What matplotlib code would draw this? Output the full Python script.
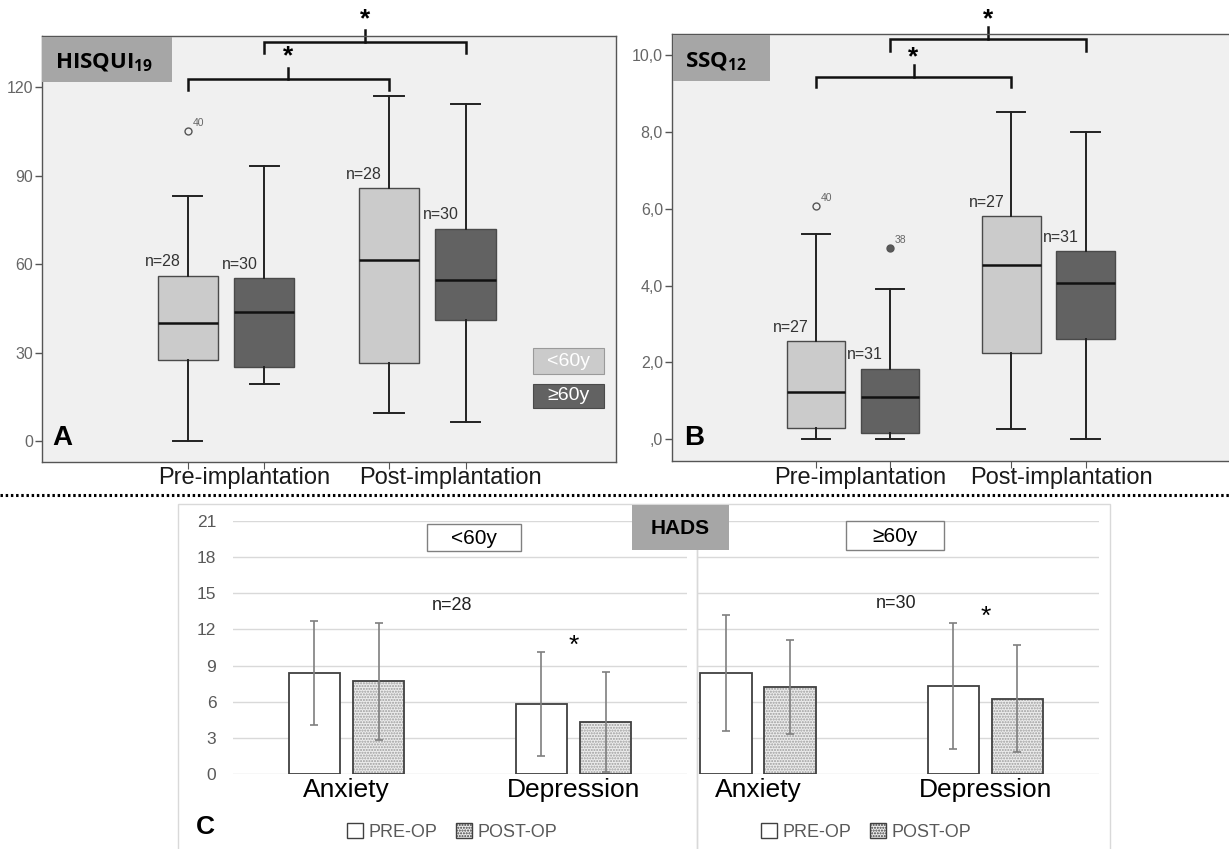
import numpy as np
import matplotlib
import matplotlib.pyplot as plt
from matplotlib.patches import Rectangle, Patch
from matplotlib.lines import Line2D

W, H = 1229, 849
DPI = 100

plt.rcParams['font.family'] = ['Liberation Sans', 'DejaVu Sans']
plt.rcParams['mathtext.fontset'] = 'custom'
plt.rcParams['mathtext.bf'] = 'Open Sans:bold'
plt.rcParams['mathtext.rm'] = 'Open Sans'

# ---- data ----
groups = ["Pre-implantation", "Post-implantation"]
age_labels = ["<60y", "≥60y"]

# panel A: HISQUI19, boxes in order <60 pre, >=60 pre, <60 post, >=60 post
hisqui_low = [0.0, 19.3, 9.4, 6.6]
hisqui_q1 = [27.6, 25.2, 26.4, 41.1]
hisqui_med = [40.0, 43.8, 61.3, 54.6]
hisqui_q3 = [56.0, 55.2, 85.7, 72.0]
hisqui_high = [82.9, 93.1, 117.0, 114.2]
hisqui_n = [28, 30, 28, 30]
hisqui_outliers = [[105.2], [], [], []]
hisqui_outlier_ids = [["40"], [], [], []]

# panel B: SSQ12
ssq_low = [0.0, 0.0, 0.26, 0.0]
ssq_q1 = [0.30, 0.17, 2.23, 2.62]
ssq_med = [1.22, 1.09, 4.54, 4.07]
ssq_q3 = [2.55, 1.83, 5.80, 4.90]
ssq_high = [5.33, 3.91, 8.53, 7.99]
ssq_n = [27, 31, 27, 31]
ssq_outliers = [[6.08], [4.99], [], []]
ssq_outlier_ids = [["40"], ["38"], [], []]

# panel C: HADS means and SD
hads_scales = ["Anxiety", "Depression"]
hads_young_pre = [8.4, 5.8]
hads_young_pre_sd = [4.3, 4.3]
hads_young_post = [7.7, 4.35]
hads_young_post_sd = [4.85, 4.15]
hads_old_pre = [8.4, 7.3]
hads_old_pre_sd = [4.8, 5.25]
hads_old_post = [7.2, 6.25]
hads_old_post_sd = [3.9, 4.45]
hads_n = [28, 30]

LIGHT = '#cbcbcb'
DARK = '#626262'
PANEL_BG = '#f0f0f0'
BOX_OFF = 0.19


def fig_rect(x0, y0, x1, y1):
    return [x0 / W, 1 - y1 / H, (x1 - x0) / W, (y1 - y0) / H]


def ftext(x, y, s, **kw):
    return fig.text(x / W, 1 - y / H, s, **kw)


def frect(x0, y0, x1, y1, **kw):
    r = Rectangle((x0 / W, 1 - y1 / H), (x1 - x0) / W, (y1 - y0) / H,
                  transform=fig.transFigure, **kw)
    fig.add_artist(r)
    return r


def box_panel(ax, lows, q1s, meds, q3s, highs, outs, out_ids, ns, out_fill):
    pos = [g + o for g in (1, 2) for o in (-BOX_OFF, BOX_OFF)]
    stats = [dict(whislo=lows[i], q1=q1s[i], med=meds[i], q3=q3s[i],
                  whishi=highs[i], fliers=[]) for i in range(4)]
    bp = ax.bxp(stats, positions=pos, widths=0.30, capwidths=0.145,
                patch_artist=True, showfliers=False,
                boxprops=dict(edgecolor='#4a4a4a', linewidth=1.0),
                medianprops=dict(color='#111111', linewidth=1.8),
                whiskerprops=dict(color='#222222', linewidth=1.4),
                capprops=dict(color='#222222', linewidth=1.4))
    for patch, c in zip(bp['boxes'], [LIGHT, DARK, LIGHT, DARK]):
        patch.set_facecolor(c)
    for i in range(4):
        for v, lab in zip(outs[i], out_ids[i]):
            ax.plot(pos[i], v, 'o', ms=5, mfc=out_fill[i], mec='#555555', mew=1)
            ax.annotate(lab, (pos[i], v), xytext=(3.5, 5.5), textcoords='offset points',
                        fontsize=7.5, color='#666666', va='center', ha='left')
        ax.annotate(f"n={ns[i]}", (pos[i], q3s[i]), xytext=(-5, 10),
                    textcoords='offset points', ha='right', va='center',
                    fontsize=11.5, color='#333333')
    ax.set_facecolor(PANEL_BG)
    for s in ax.spines.values():
        s.set_color('#555555')
        s.set_linewidth(1.0)
    ax.set_xticks(pos)
    ax.tick_params(axis='x', length=5, color='#555555', labelbottom=False)
    ax.tick_params(axis='y', direction='out', length=5, width=1, color='#555555',
                   labelcolor='#666666', labelsize=11.5, pad=1.5)
    for t in ax.get_yticklabels():
        t.set_fontfamily(['Liberation Sans Narrow', 'Liberation Sans'])
    return pos


def bracket(ax, x0, x1, y, leg, tick, star_y):
    xm = (x0 + x1) / 2
    ax.plot([x0, x0, x1, x1], [y - leg, y, y, y - leg], color='#111111', lw=1.8,
            clip_on=False, solid_joinstyle='miter')
    ax.plot([xm, xm], [y, y + tick], color='#111111', lw=1.8, clip_on=False)
    ax.text(xm, star_y, '*', ha='center', va='center', fontsize=19, fontweight='bold',
            clip_on=False)


fig = plt.figure(figsize=(W / DPI, H / DPI), dpi=DPI)
fig.patch.set_facecolor('white')

# ---------- panel A ----------
axA = fig.add_axes(fig_rect(42, 36, 616, 462))
axA.set_ylim(-7.1, 137.3)
axA.set_yticks([0, 30, 60, 90, 120])
posA = box_panel(axA, hisqui_low, hisqui_q1, hisqui_med, hisqui_q3, hisqui_high,
                 hisqui_outliers, hisqui_outlier_ids, hisqui_n,
                 [PANEL_BG, PANEL_BG, PANEL_BG, PANEL_BG])
axA.set_xlim(0.085, 2.938)
bracket(axA, posA[0], posA[2], 122.7, 3.7, 3.7, 130.3)
bracket(axA, posA[1], posA[3], 135.3, 3.8, 4.0, 142.8)

frect(42, 37, 172, 82, facecolor='#a6a6a6', edgecolor='none', zorder=3)
ftext(55, 68, r'$\mathbf{HISQUI_{19}}$', fontsize=16, ha='left', va='baseline', zorder=4)
ftext(62, 438, 'A', fontsize=20, fontweight='bold', ha='center', va='center')

frect(533, 348, 604, 374, facecolor=LIGHT, edgecolor='#9a9a9a', lw=0.8, zorder=3)
frect(533, 384, 604, 408, facecolor=DARK, edgecolor='#4a4a4a', lw=0.8, zorder=3)
for lab, yc in zip(age_labels, [361, 396]):
    ftext(568, yc, lab, fontsize=14, color='white', ha='center', va='center', zorder=4,
          family=['Liberation Sans Narrow', 'Liberation Sans'])

ftext(244, 478, groups[0], fontsize=17, ha='center', va='center', color='#1a1a1a')
ftext(450, 478, groups[1], fontsize=17, ha='center', va='center', color='#1a1a1a')

# ---------- panel B ----------
axB = fig.add_axes(fig_rect(672, 34, 1232, 461))
axB.set_ylim(-0.57, 10.55)
axB.set_yticks([0, 2, 4, 6, 8, 10])
axB.set_yticklabels([',0', '2,0', '4,0', '6,0', '8,0', '10,0'])
posB = box_panel(axB, ssq_low, ssq_q1, ssq_med, ssq_q3, ssq_high,
                 ssq_outliers, ssq_outlier_ids, ssq_n,
                 [PANEL_BG, '#5a5a5a', PANEL_BG, PANEL_BG])
axB.set_xlim(0.074, 2.939)
bracket(axB, posB[0], posB[2], 9.43, 0.26, 0.3, 9.95)
bracket(axB, posB[1], posB[3], 10.42, 0.31, 0.3, 10.92)

frect(673, 35, 770, 81, facecolor='#a6a6a6', edgecolor='none', zorder=3)
ftext(685, 67, r'$\mathbf{SSQ_{12}}$', fontsize=16, ha='left', va='baseline', zorder=4)
ftext(694, 438, 'B', fontsize=20, fontweight='bold', ha='center', va='center')

ftext(860, 478, groups[0], fontsize=17, ha='center', va='center', color='#1a1a1a')
ftext(1061, 478, groups[1], fontsize=17, ha='center', va='center', color='#1a1a1a')

# dotted separator
fig.add_artist(Line2D([0, 1], [1 - 495 / H] * 2, transform=fig.transFigure,
                      color='black', lw=2.2, linestyle=(0, (0.8, 0.9))))

# ---------- panel C ----------
frect(178, 504, 697, 860, facecolor='none', edgecolor='#d9d9d9', lw=1.0, zorder=0)
frect(697, 504, 1110, 860, facecolor='none', edgecolor='#d9d9d9', lw=1.0, zorder=0)

axL = fig.add_axes(fig_rect(233, 521, 687, 774))
axR = fig.add_axes(fig_rect(698, 521, 1099, 774))

BAR_W = 0.225
BAR_OFF = 0.141
x = np.arange(len(hads_scales))

for ax, pre, pre_sd, post, post_sd, xl in [
        (axL, hads_young_pre, hads_young_pre_sd, hads_young_post, hads_young_post_sd, (-0.5, 1.5)),
        (axR, hads_old_pre, hads_old_pre_sd, hads_old_post, hads_old_post_sd, (-0.264, 1.5))]:
    ax.set_facecolor('none')
    ax.bar(x - BAR_OFF, pre, BAR_W, color='white', edgecolor='#404040', lw=1.3, zorder=2)
    ax.bar(x + BAR_OFF, post, BAR_W, color='#ececec', edgecolor='#9c9c9c', lw=0,
           hatch='......', zorder=2)
    ax.bar(x + BAR_OFF, post, BAR_W, color='none', edgecolor='#404040', lw=1.3, zorder=2)
    ax.errorbar(x - BAR_OFF, pre, yerr=pre_sd, fmt='none', ecolor='#7f7f7f',
                elinewidth=1.2, capsize=3, capthick=1.2, zorder=3)
    ax.errorbar(x + BAR_OFF, post, yerr=post_sd, fmt='none', ecolor='#7f7f7f',
                elinewidth=1.2, capsize=3, capthick=1.2, zorder=3)
    # significance star above depression
    top = max(pre[1] + pre_sd[1], post[1] + post_sd[1])
    ax.text(x[1], top + 0.5, '*', ha='center', va='center', fontsize=19)
    ax.set_xlim(*xl)
    ax.set_ylim(0, 21)
    ax.set_yticks(range(0, 22, 3))
    ax.yaxis.grid(True, color='#d9d9d9', lw=1.0)
    ax.set_axisbelow(True)
    for s in ax.spines.values():
        s.set_visible(False)
    ax.set_xticks(x)
    ax.set_xticklabels(hads_scales)
    ax.tick_params(axis='x', length=0, labelsize=19, pad=3)
    ax.tick_params(axis='y', length=0, labelsize=12.5, labelcolor='#595959', pad=12)

axR.tick_params(axis='y', labelleft=False)

frect(632, 505, 729, 550, facecolor='#a6a6a6', edgecolor='none', zorder=3)
ftext(680, 528, 'HADS', fontsize=15, fontweight='bold', ha='center', va='center', zorder=4)

frect(427, 524, 521, 551, facecolor='white', edgecolor='#808080', lw=1.0, zorder=3)
ftext(474, 538, age_labels[0], fontsize=15, ha='center', va='center', zorder=4)
frect(846, 521, 944, 550, facecolor='white', edgecolor='#808080', lw=1.0, zorder=3)
ftext(895, 536, age_labels[1], fontsize=15, ha='center', va='center', zorder=4)

ftext(452, 605, f"n={hads_n[0]}", fontsize=13, ha='center', va='center', color='#222222')
ftext(896, 604, f"n={hads_n[1]}", fontsize=13, ha='center', va='center', color='#222222')

ftext(205, 827, 'C', fontsize=19, fontweight='bold', ha='center', va='center')

handles = [Patch(facecolor='white', edgecolor='#404040', lw=1.0),
           Patch(facecolor='#ececec', edgecolor='#404040', hatch='......', lw=1.0)]
for xc in (452, 866):
    leg = fig.legend(handles, ['PRE-OP', 'POST-OP'], loc='center',
                     bbox_to_anchor=(xc / W, 1 - 832 / H), ncol=2, frameon=False,
                     fontsize=13, handlelength=0.9, handleheight=0.9,
                     handletextpad=0.3, columnspacing=1.0)
    for t in leg.get_texts():
        t.set_color('#595959')

fig.savefig('out.png', dpi=DPI)
